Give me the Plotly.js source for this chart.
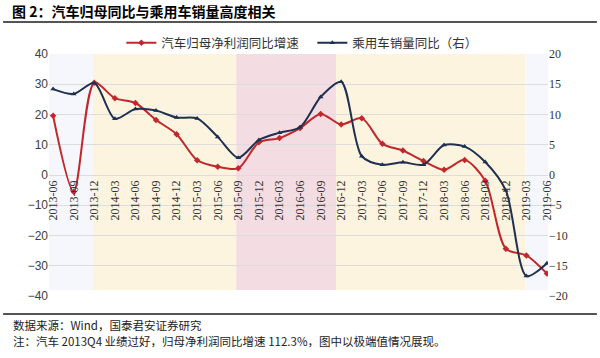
<!DOCTYPE html>
<html>
<head>
<meta charset="utf-8">
<script src="https://cdn.plot.ly/plotly-3.0.1.min.js"></script>
<style>body{margin:0;padding:0;background:#fff}#chart{width:600px;height:358px}</style>
</head>
<body>
<div id="chart"></div>
<script>
const quarters = ['2013-06','2013-09','2013-12','2014-03','2014-06','2014-09','2014-12','2015-03','2015-06','2015-09','2015-12','2016-03','2016-06','2016-09','2016-12','2017-03','2017-06','2017-09','2017-12','2018-03','2018-06','2018-09','2018-12','2019-03','2019-06'];
const profitGrowth = [19.6, -5.5, 30.5, 25.4, 23.8, 18.2, 13.5, 4.9, 2.7, 2.2, 10.8, 12.2, 15.5, 20.2, 16.7, 18.8, 10.3, 8.1, 4.6, 1.7, 5.0, -1.9, -24.4, -26.6, -32.6];
const salesGrowth = [14.2, 13.4, 15.2, 9.3, 10.9, 10.65, 9.5, 9.35, 6.3, 2.85, 5.8, 7.0, 7.9, 12.9, 15.4, 3.1, 1.7, 2.1, 1.7, 4.95, 4.7, 2.15, -2.55, -16.7, -14.6];
const seriesNames = ['汽车归母净利润同比增速', '乘用车销量同比（右）'];
// background bands: [start index, end index, colour]
const bandStarts = [-0.2, 1.93, 8.9, 13.75, 22.95];
const bandEnds   = [1.93, 8.9, 13.75, 22.95, 24.05];
const bandColors = ['#f6f7fc', '#fdf4e0', '#f4dde2', '#fdf4e0', '#f6f7fc'];

const shapes = bandStarts.map((s, i) => ({
  type: 'rect', xref: 'x', yref: 'y', x0: s, x1: bandEnds[i], y0: -38, y1: 40.4,
  fillcolor: bandColors[i], line: {width: 0}, layer: 'below'
}));
shapes.push({type: 'line', xref: 'paper', yref: 'paper', x0: -0.092, x1: 1.098, y0: 1.132, y1: 1.132, line: {color: '#555', width: 2}});
shapes.push({type: 'line', xref: 'paper', yref: 'paper', x0: -0.092, x1: 1.098, y0: -0.074, y1: -0.074, line: {color: '#555', width: 2}});

const data = [
  {x: quarters, y: profitGrowth, name: seriesNames[0], type: 'scatter', mode: 'lines+markers',
   line: {color: '#c0282c', width: 2, shape: 'spline', smoothing: 0.8},
   marker: {symbol: 'diamond', size: 5, color: '#c0282c'}},
  {x: quarters, y: salesGrowth, name: seriesNames[1], type: 'scatter', mode: 'lines+markers', yaxis: 'y2',
   line: {color: '#1f3050', width: 2, shape: 'spline', smoothing: 0.8},
   marker: {symbol: 'triangle-up', size: 5, color: '#1f3050'}}
];

const layout = {
  width: 600, height: 358,
  margin: {l: 49, r: 52, t: 54, b: 62},
  paper_bgcolor: '#fff', plot_bgcolor: 'rgba(0,0,0,0)',
  title: {text: '<b>图 2：汽车归母同比与乘用车销量高度相关</b>', x: 0.02, xref: 'container', xanchor: 'left',
          y: 0.966, yref: 'container', yanchor: 'middle',
          font: {family: 'Noto Sans CJK SC', size: 14, color: '#000'}},
  showlegend: true,
  legend: {orientation: 'h', x: 0.145, xanchor: 'left', y: 1.045, yanchor: 'middle',
           font: {family: 'Noto Sans CJK SC', size: 12.5, color: '#333'}, bgcolor: 'rgba(0,0,0,0)',
           entrywidth: 146, entrywidthmode: 'pixels'},
  xaxis: {type: 'category', range: [-0.2, 24.05], anchor: 'free', position: 0.5,
          tickangle: -90, showgrid: false, showline: false, zeroline: false, ticks: '',
          ticklabelstandoff: 2,
          tickfont: {family: 'Liberation Serif', size: 12, color: '#333'}},
  yaxis: {range: [-40, 40], dtick: 10, showgrid: true, gridcolor: '#dddddd', gridwidth: 1, zeroline: false,
          showline: false, ticks: '', tickfont: {family: 'Liberation Sans', size: 12, color: '#404040'}},
  yaxis2: {range: [-20, 20], dtick: 5, overlaying: 'y', side: 'right', showgrid: false, zeroline: false,
           showline: false, ticks: '', tickfont: {family: 'Liberation Serif', size: 12, color: '#333'}},
  shapes: shapes,
  annotations: [
    {text: '数据来源：Wind，国泰君安证券研究', xref: 'paper', yref: 'paper', x: -0.077, y: -0.12,
     xanchor: 'left', yanchor: 'middle', showarrow: false, font: {family: 'Noto Sans CJK SC', size: 11.5, color: '#222'}},
    {text: '注：汽车 2013Q4 业绩过好，归母净利润同比增速 112.3%，图中以极端值情况展现。', xref: 'paper', yref: 'paper', x: -0.077, y: -0.185,
     xanchor: 'left', yanchor: 'middle', showarrow: false, font: {family: 'Noto Sans CJK SC', size: 11.5, color: '#222'}}
  ]
};

Plotly.newPlot('chart', data, layout, {displayModeBar: false, staticPlot: true});
</script>
</body>
</html>
